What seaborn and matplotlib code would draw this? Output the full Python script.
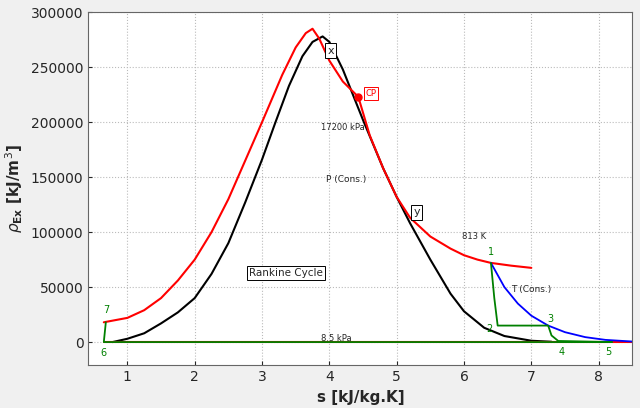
import numpy as np
import pandas as pd
import matplotlib
matplotlib.use("Agg")
import matplotlib.pyplot as plt
import seaborn as sns

# ── Data ──────────────────────────────────────────────────────────────────────
dome_s = [0.78, 1.0, 1.25, 1.5, 1.75, 2.0, 2.25, 2.5, 2.75, 3.0, 3.2, 3.4, 3.6, 3.75, 3.9, 4.0, 4.2, 4.5, 4.8, 5.0, 5.2, 5.5, 5.8, 6.0, 6.3, 6.6, 7.0, 7.3]
dome_y = [0, 3000, 8000, 17000, 27000, 40000, 62000, 90000, 127000, 166000, 200000, 233000, 260000, 273000, 278000, 273000, 248000, 202000, 158000, 132000, 108000, 75000, 44000, 28000, 13000, 5500, 1200, 300]

sat_s = [0.65, 1.0, 1.25, 1.5, 1.75, 2.0, 2.25, 2.5, 2.75, 3.0, 3.3, 3.5, 3.65, 3.75, 3.85, 4.0, 4.2, 4.43]
sat_y = [18000, 22000, 29000, 40000, 56000, 75000, 100000, 130000, 165000, 200000, 243000, 268000, 281000, 285000, 276000, 256000, 237000, 223000]
iso_s = [4.43, 4.6, 4.8, 5.0, 5.2, 5.5, 5.8, 6.0, 6.2, 6.4, 6.7, 7.0]
iso_y = [223000, 188000, 158000, 132000, 113000, 96000, 85000, 79000, 75000, 72000, 69500, 67500]

low_s = [0.65, 8.5]
low_y = [0, 0]

temp_s = [6.4, 6.6, 6.8, 7.0, 7.25, 7.5, 7.8, 8.1, 8.5]
temp_y = [72000, 50000, 35000, 24000, 15000, 9000, 4500, 2000, 500]

cyc_s = [6.4, 6.45, 6.5, 7.25, 7.3, 7.4, 8.2, 0.65, 0.68]
cyc_y = [72000, 40000, 15000, 15000, 6000, 1000, 0, 0, 18000]

pts = {"1": (6.4, 82000), "2": (6.38, 12000), "3": (7.28, 21000), "4": (7.45, -9000),
       "5": (8.15, -9000), "6": (0.65, -10000), "7": (0.68, 29000)}

sat = pd.DataFrame({"s": sat_s + iso_s, "y": sat_y + iso_y})
dome = pd.DataFrame({"s": dome_s, "y": dome_y})

sns.set_style("white")
fig = plt.figure(figsize=(6.4, 4.08), dpi=100, facecolor="#f0f0f0")
ax = fig.add_axes([0.138, 0.105, 0.85, 0.865])

sns.lineplot(data=dome, x="s", y="y", color="black", lw=1.5, sort=False, ax=ax)
sns.lineplot(data=sat, x="s", y="y", color="red", lw=1.5, sort=False, ax=ax)
sns.lineplot(x=low_s, y=low_y, color="red", lw=1.5, sort=False, ax=ax)
sns.lineplot(x=temp_s, y=temp_y, color="blue", lw=1.3, sort=False, ax=ax)
sns.lineplot(x=cyc_s, y=cyc_y, color="green", lw=1.3, sort=False, ax=ax)
ax.plot(4.43, 223000, "o", color="red", ms=5)

for k, (px, py) in pts.items():
    ax.text(px, py, k, color="green", fontsize=7, ha="center", va="center")

box = dict(boxstyle="square,pad=0.2", fc="white", ec="black", lw=0.7)
ax.text(4.02, 265000, "x", fontsize=8, ha="center", va="center", bbox=box)
ax.text(4.62, 226000, "CP", fontsize=6, color="red", ha="center", va="center",
        bbox=dict(boxstyle="square,pad=0.2", fc="white", ec="red", lw=0.7))
ax.text(5.3, 118000, "y", fontsize=8, ha="center", va="center", bbox=box)
ax.text(3.35, 63000, "Rankine Cycle", fontsize=7.5, ha="center", va="center", bbox=box)
ax.text(4.2, 195000, "17200 kPa", fontsize=6, ha="center", va="center")
ax.text(4.25, 148000, "P (Cons.)", fontsize=6.5, ha="center", va="center")
ax.text(6.15, 96000, "813 K", fontsize=6, ha="center", va="center")
ax.text(7.0, 48000, "T (Cons.)", fontsize=6.5, ha="center", va="center")
ax.text(4.1, 3500, "8.5 kPa", fontsize=6, ha="center", va="center")

ax.set_xlim(0.42, 8.5)
ax.set_ylim(-21000, 300000)
ax.set_xticks(range(1, 9))
ax.set_yticks(range(0, 300001, 50000))
ax.grid(True, ls=":", color="#bbbbbb", lw=0.8)
ax.tick_params(labelsize=10, direction="in", length=3, left=True, bottom=True)
ax.set_xlabel("s [kJ/kg.K]", fontsize=11, fontweight="bold")
ax.set_ylabel(r"$\rho_{\mathbf{Ex}}$ [kJ/m$^3$]", fontsize=11, fontweight="bold")
for sp in ax.spines.values():
    sp.set_color("#666666")

fig.savefig("out.png", dpi=100, facecolor=fig.get_facecolor())
